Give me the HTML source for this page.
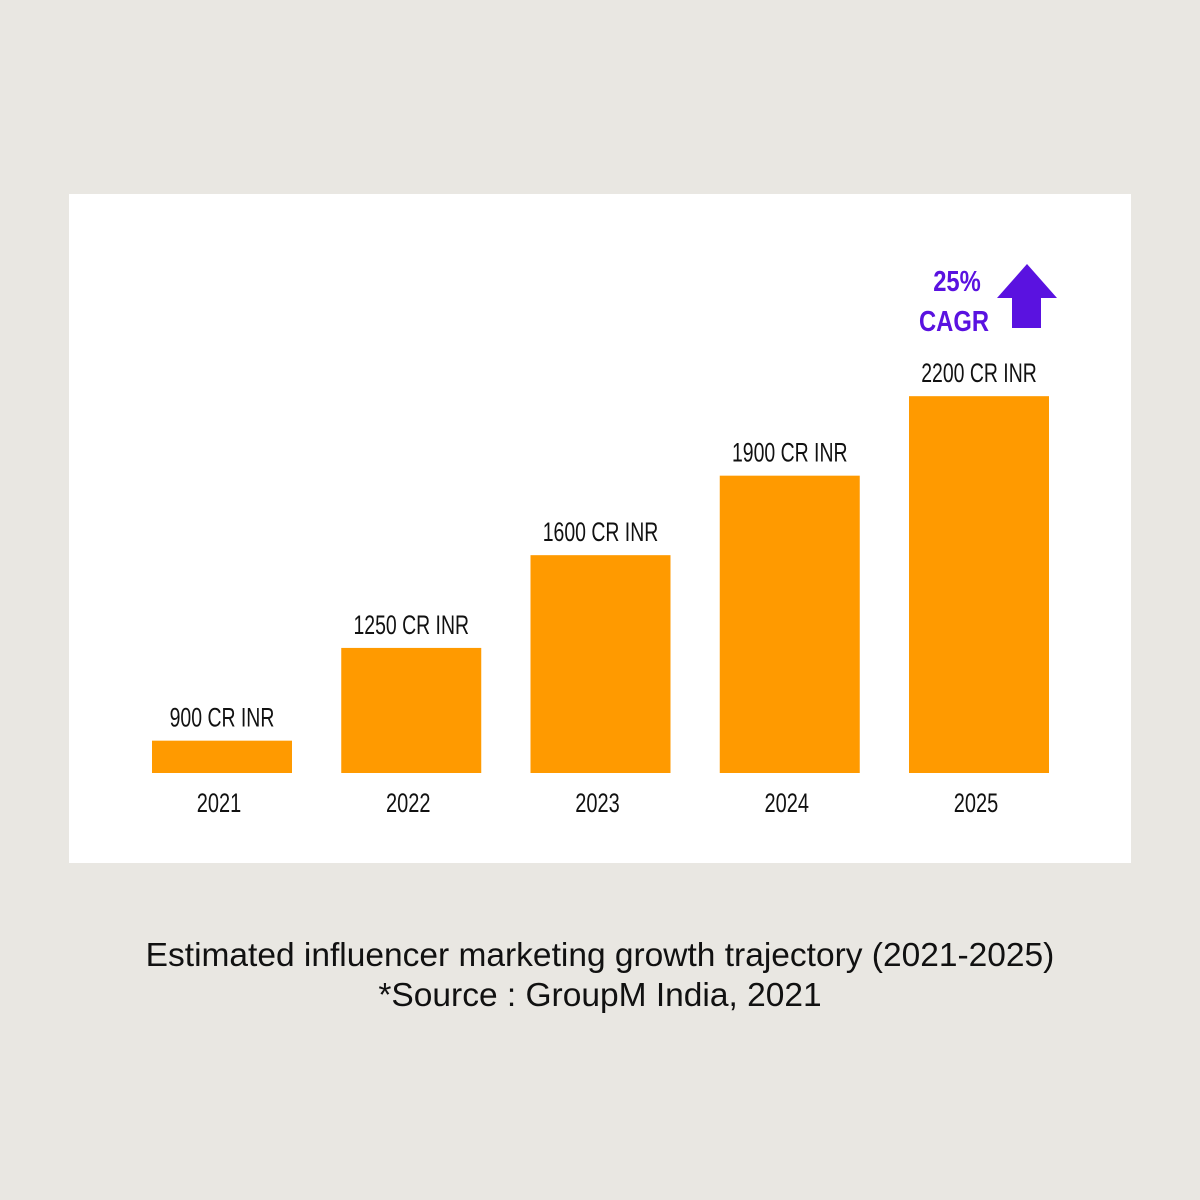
<!DOCTYPE html>
<html><head><meta charset="utf-8"><style>
html,body{margin:0;padding:0;background:#e9e7e2;}
svg{display:block}
</style></head><body>
<svg width="1200" height="1200" viewBox="0 0 1200 1200">
<rect x="0" y="0" width="1200" height="1200" fill="#e9e7e2"/>
<rect x="69" y="194" width="1062" height="669" fill="#ffffff"/>
<g id="bars"></g>
<g>
<text x="957" y="291" text-anchor="middle" font-family="Liberation Sans, sans-serif" font-weight="bold" font-size="29" fill="#5a12e0" transform="translate(957 0) scale(0.82 1) translate(-957 0)">25%</text>
<text x="954" y="331" text-anchor="middle" font-family="Liberation Sans, sans-serif" font-weight="bold" font-size="29" fill="#5a12e0" transform="translate(954 0) scale(0.82 1) translate(-954 0)">CAGR</text>
<polygon points="1027,264 1057,298 1041,298 1041,328 1012,328 1012,298 997,298" fill="#5a12e0"/>
</g>
<text x="600" y="966" text-anchor="middle" font-family="Liberation Sans, sans-serif" font-size="33.5" fill="#111">Estimated influencer marketing growth trajectory (2021-2025)</text>
<text x="600" y="1006" text-anchor="middle" font-family="Liberation Sans, sans-serif" font-size="33.5" fill="#111">*Source : GroupM India, 2021</text>
</svg>
<script>
const categories=["2021","2022","2023","2024","2025"];
const values=[900,1250,1600,1900,2200];
const valueLabels=["900 CR INR","1250 CR INR","1600 CR INR","1900 CR INR","2200 CR INR"];
const baseY=773, base=778, k=0.265;
function yScale(v){return baseY-(v-base)*k;}
function xScale(i){return 152+i*189.25;}
const bw=140, ns="http://www.w3.org/2000/svg";
const g=document.getElementById('bars');
function sx(el,cx,s){el.setAttribute('transform',`translate(${cx} 0) scale(${s} 1) translate(${-cx} 0)`);}
values.forEach((v,i)=>{
  const x=xScale(i), y=yScale(v);
  const r=document.createElementNS(ns,'rect');
  r.setAttribute('x',x);r.setAttribute('y',y);r.setAttribute('width',bw);r.setAttribute('height',baseY-y);
  r.setAttribute('fill','#ff9a00');
  
  
  g.appendChild(r);
  const cx=x+bw/2;
  const t=document.createElementNS(ns,'text');
  t.setAttribute('x',cx);t.setAttribute('y',y-14);t.setAttribute('text-anchor','middle');
  t.setAttribute('font-family','Liberation Sans, sans-serif');t.setAttribute('font-size','27');t.setAttribute('fill','#111');
  t.textContent=valueLabels[i];sx(t,cx,0.72);
  
  
  g.appendChild(t);
  const c=document.createElementNS(ns,'text');
  c.setAttribute('x',cx-3);c.setAttribute('y',812);c.setAttribute('text-anchor','middle');
  c.setAttribute('font-family','Liberation Sans, sans-serif');c.setAttribute('font-size','27');c.setAttribute('fill','#111');
  c.textContent=categories[i];sx(c,cx-3,0.74);
  
  
  g.appendChild(c);
});
</script>
</body></html>
